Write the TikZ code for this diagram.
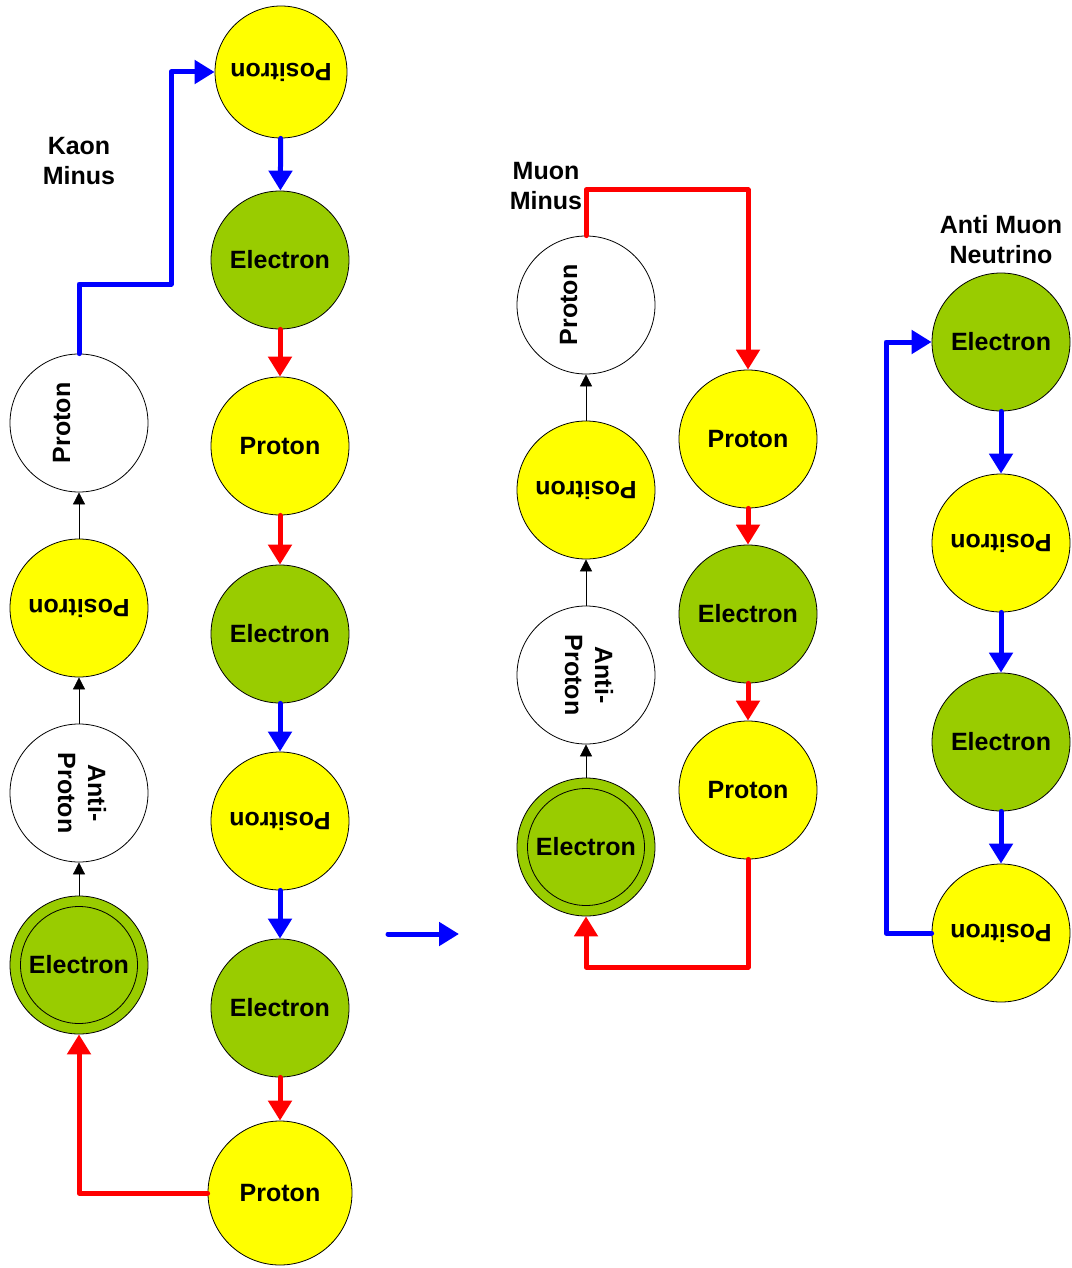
\documentclass[tikz,border=0pt]{standalone}
\usepackage{fontspec}
\setmainfont{Liberation Sans}
\usepackage{graphicx}
\usetikzlibrary{arrows.meta}
\definecolor{pyellow}{HTML}{FFFF00}
\definecolor{pgreen}{HTML}{99CC00}
\definecolor{pred}{HTML}{FF0000}
\definecolor{pblue}{HTML}{0000FF}
\begin{document}
\begin{tikzpicture}[x=1pt,y=-1pt,
  circ/.style={circle, draw=black, line width=0.8pt, minimum size=138pt, inner sep=0pt,
    font=\bfseries\fontsize{25}{30}\selectfont, align=center},
  yel/.style={circ, fill=pyellow},
  grn/.style={circ, fill=pgreen},
  wht/.style={circ, fill=white},
  dbl/.style={grn, path picture={\draw[line width=0.8pt] (path picture bounding box.center) circle (58.5pt);}},
  lbl/.style={font=\bfseries\fontsize{25}{30}\selectfont, align=center, inner sep=0pt},
  thin/.style={draw=black, line width=0.8pt, -{Triangle[length=12pt,width=12pt]}},
  redarr/.style={draw=pred, line width=5pt, line join=round, line cap=round, -{Triangle[length=20pt,width=23pt]}},
  bluarr/.style={draw=pblue, line width=5pt, line join=round, line cap=round, -{Triangle[length=20pt,width=23pt]}},
]
\useasboundingbox (0,0) rectangle (1071,1268);

% ---- left group (Kaon Minus)
\node[lbl] (kaon) at (79,161) {Kaon\\Minus};
\node[wht] (lpro) at (79,423) {\rotatebox{90}{\begin{tabular}{@{}c@{}}Proton\\ \strut\end{tabular}}};
\node[yel] (lpos) at (79,608) {\rotatebox{180}{Positron}};
\node[wht] (lanti) at (79,793) {\rotatebox{-90}{\begin{tabular}{@{}c@{}}Anti-\\Proton\end{tabular}}};
\node[dbl] (lel) at (79,965) {Electron};

\node[yel, minimum size=132pt] (c1) at (281,72) {\rotatebox{180}{Positron}};
\node[grn] (c2) at (280,260) {Electron};
\node[yel] (c3) at (280,446) {Proton};
\node[grn] (c4) at (280,634) {Electron};
\node[yel] (c5) at (280,821) {\rotatebox{180}{Positron}};
\node[grn] (c6) at (280,1008) {Electron};
\node[yel, minimum size=144pt] (c7) at (280,1193) {Proton};

\draw[thin] (lel) -- (lanti);
\draw[thin] (lanti) -- (lpos);
\draw[thin] (lpos) -- (lpro);

\draw[bluarr] (c1) -- (c2);
\draw[redarr] (c2) -- (c3);
\draw[redarr] (c3) -- (c4);
\draw[bluarr] (c4) -- (c5);
\draw[bluarr] (c5) -- (c6);
\draw[redarr] (c6) -- (c7);

\coordinate (k1) at (79,284);
\coordinate (k2) at (171,284);
\draw[bluarr] (lpro.north) -- (k1) -- (k2) |- (c1.west);
\draw[redarr] (c7.west) -| (lel.south);

% ---- middle arrow
\coordinate (a1) at (388,934);
\coordinate (a2) at (459,934);
\draw[bluarr] (a1) -- (a2);

% ---- middle group (Muon Minus)
\node[lbl] (muon) at (546,186) {Muon\\Minus};
\node[wht] (mpro) at (586,305) {\rotatebox{90}{\begin{tabular}{@{}c@{}}Proton\\ \strut\end{tabular}}};
\node[yel] (mpos) at (586,490) {\rotatebox{180}{Positron}};
\node[wht] (manti) at (586,675) {\rotatebox{-90}{\begin{tabular}{@{}c@{}}Anti-\\Proton\end{tabular}}};
\node[dbl] (mel) at (586,847) {Electron};

\node[yel] (n1) at (748,439) {Proton};
\node[grn] (n2) at (748,614) {Electron};
\node[yel] (n3) at (748,790) {Proton};

\draw[thin] (mel) -- (manti);
\draw[thin] (manti) -- (mpos);
\draw[thin] (mpos) -- (mpro);

\draw[redarr] (n1) -- (n2);
\draw[redarr] (n2) -- (n3);

\coordinate (m1) at (586,190);
\draw[redarr] (mpro.north) -- (m1) -| (n1.north);
\coordinate (m2) at (748,967);
\draw[redarr] (n3.south) -- (m2) -| (mel.south);

% ---- right group (Anti Muon Neutrino)
\node[lbl] (amn) at (1001,240) {Anti Muon\\Neutrino};
\node[grn] (r1) at (1001,342) {Electron};
\node[yel] (r2) at (1001,543) {\rotatebox{180}{Positron}};
\node[grn] (r3) at (1001,742) {Electron};
\node[yel] (r4) at (1001,933) {\rotatebox{180}{Positron}};

\draw[bluarr] (r1) -- (r2);
\draw[bluarr] (r2) -- (r3);
\draw[bluarr] (r3) -- (r4);

\coordinate (q1) at (886,933);
\draw[bluarr] (r4.west) -- (q1) |- (r1.west);
\end{tikzpicture}
\end{document}
